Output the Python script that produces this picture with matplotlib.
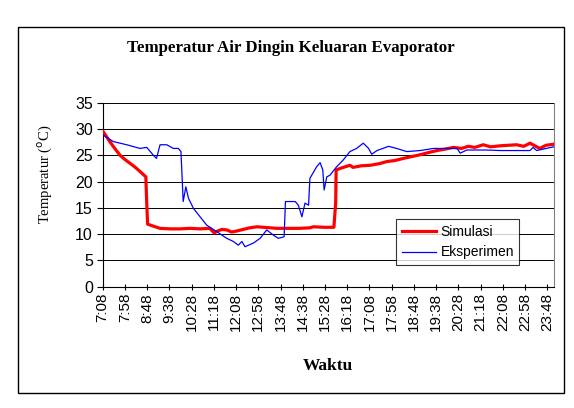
import matplotlib
matplotlib.use('Agg')
import matplotlib.pyplot as plt
from matplotlib.patches import Rectangle

# time in minutes after midnight, temperature in degC
sim_t = [429, 444, 456, 467, 478, 489, 500, 512, 525, 527, 529, 539, 557, 580,
         602, 625, 647, 669, 679, 684, 696, 707, 718, 730, 744, 759, 775, 789,
         805, 820, 849, 870, 894, 902, 925, 948, 952, 953, 962, 984, 991, 1010,
         1030, 1050, 1067, 1085, 1104, 1120, 1142, 1160, 1180, 1200, 1217, 1235,
         1250, 1265, 1284, 1300, 1322, 1340, 1359, 1375, 1389, 1400, 1411, 1425,
         1442]
sim_v = [29.5, 27.6, 26.2, 25.0, 24.2, 23.5, 22.8, 21.9, 20.9, 16.0, 11.9, 11.6,
         11.1, 11.0, 11.0, 11.1, 11.0, 11.1, 10.2, 10.5, 10.9, 10.8, 10.4, 10.6,
         10.9, 11.2, 11.4, 11.3, 11.2, 11.1, 11.1, 11.1, 11.2, 11.4, 11.3, 11.3,
         16.0, 22.2, 22.5, 23.1, 22.7, 23.0, 23.1, 23.4, 23.8, 24.0, 24.4, 24.7,
         25.1, 25.5, 25.9, 26.2, 26.5, 26.3, 26.7, 26.5, 27.0, 26.6, 26.8, 26.9,
         27.0, 26.7, 27.3, 26.8, 26.3, 26.9, 27.1]

exp_t = [428, 452, 482, 512, 527, 542, 549, 557, 572, 587, 598, 604, 609, 615,
         621, 632, 662, 684, 707, 722, 733, 741, 748, 767, 782, 797, 812, 823,
         836, 839, 861, 868, 876, 883, 891, 894, 909, 917, 923, 926, 932, 939,
         954, 969, 984, 999, 1014, 1026, 1033, 1045, 1071, 1089, 1112, 1142,
         1172, 1225, 1232, 1247, 1292, 1322, 1389, 1396, 1404, 1442]
exp_v = [28.9, 27.6, 27.0, 26.3, 26.5, 25.0, 24.4, 27.0, 27.0, 26.3, 26.3, 25.7,
         16.2, 19.0, 16.8, 14.9, 11.7, 10.5, 9.2, 8.6, 7.9, 8.6, 7.6, 8.3, 9.2,
         10.8, 9.8, 9.2, 9.5, 16.2, 16.2, 15.5, 13.3, 15.9, 15.5, 20.6, 22.8,
         23.6, 22.2, 18.4, 20.9, 21.2, 22.8, 24.1, 25.7, 26.3, 27.3, 26.3, 25.2,
         25.9, 26.7, 26.3, 25.7, 25.9, 26.3, 26.3, 25.4, 26.0, 26.0, 25.9, 25.9,
         26.5, 25.9, 26.6]

tick_min = list(range(428, 1429, 50))
tick_lab = ['%d:%02d' % (m // 60, m % 60) for m in tick_min]

W, H = 574, 408
fig = plt.figure(figsize=(W / 100, H / 100), dpi=100)
fig.patches.append(Rectangle((18 / W, 1 - 392.7 / H), (564 - 18) / W, (392.7 - 26.7) / H,
                             transform=fig.transFigure, fill=False, ec='black', lw=1.0))

ax = fig.add_axes([102.7 / W, 1 - 286.7 / H, (554 - 102.7) / W, (286.7 - 102.7) / H])
for y in range(5, 40, 5):
    ax.axhline(y, color='black', lw=0.7, zorder=1)
ax.plot(sim_t, sim_v, color='#ff0000', lw=2.3, label='Simulasi', zorder=3)
ax.plot(exp_t, exp_v, color='#0000ff', lw=0.9, label='Eksperimen', zorder=4)

ax.set_xlim(428, 1443)
ax.set_ylim(0, 35)
ax.set_yticks(range(0, 40, 5))
ax.set_xticks(tick_min)
ax.set_xticklabels(tick_lab, rotation=90, family='Liberation Sans', fontsize=11)
for lab in ax.get_yticklabels():
    lab.set_family('Liberation Sans')
    lab.set_fontsize(11.5)
ax.tick_params(axis='x', direction='inout', length=5, width=0.8, pad=2)
ax.tick_params(axis='y', direction='out', length=4, width=0.8, pad=3)
ax.spines['right'].set_color('#808080')
ax.spines['top'].set_visible(False)

fig.text(291 / W, 1 - 48 / H, 'Temperatur Air Dingin Keluaran Evaporator',
         ha='center', va='center', family='Liberation Serif', fontweight='bold', fontsize=12.2)
fig.text(45 / W, 1 - 174 / H, 'Temperatur ($^{\\rm o}$C)', rotation=90,
         ha='center', va='center', family='Liberation Serif', fontsize=10.5)
fig.text(328 / W, 1 - 366 / H, 'Waktu', ha='center', va='center',
         family='Liberation Serif', fontweight='bold', fontsize=12.5)

leg = ax.legend(loc='lower left', bbox_to_anchor=((396 - 102.7) / (554 - 102.7), (286.7 - 265) / 184,
                                                 (519 - 396) / (554 - 102.7), (265 - 216) / 184),
                mode='expand', frameon=True, fancybox=False, borderaxespad=0,
                prop={'family': 'Liberation Sans', 'size': 10}, handlelength=2.5,
                handletextpad=0.3, labelspacing=0.5, borderpad=0.4)
leg.get_frame().set_edgecolor('black')
leg.get_frame().set_linewidth(0.8)

fig.savefig('out.png', dpi=100)
